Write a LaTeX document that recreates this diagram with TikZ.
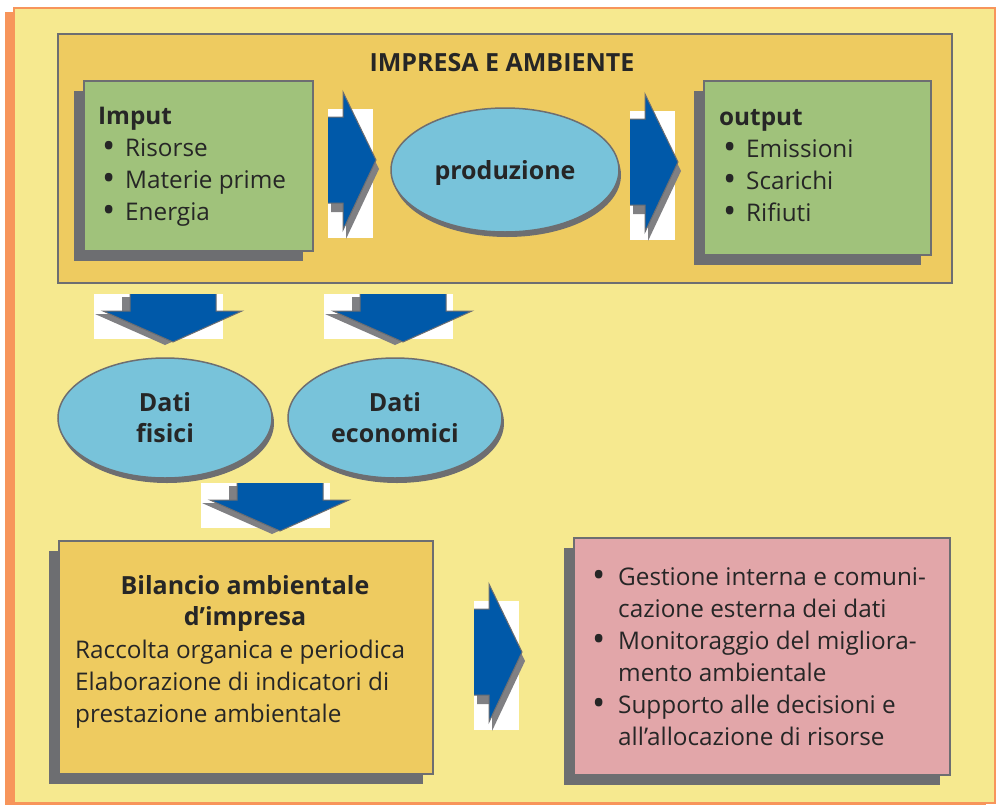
\documentclass[tikz,border=0pt]{standalone}
\usepackage{graphicx}
\usepackage{fontspec}
\setmainfont{Open Sans}
\usetikzlibrary{positioning,shapes.geometric,shadows}

\definecolor{framebg}{HTML}{F6E98F}
\definecolor{frameline}{HTML}{F7955B}
\definecolor{impresabg}{HTML}{EECB60}
\definecolor{boxline}{HTML}{6D6E71}
\definecolor{greenbg}{HTML}{A0C27B}
\definecolor{ellbg}{HTML}{78C3DA}
\definecolor{pinkbg}{HTML}{E2A6A9}
\definecolor{arrowblue}{HTML}{0059A9}
\definecolor{arrowshadow}{HTML}{808083}

% block arrows: right (x of shaft start, y of centre), down (x of centre, y of shaft top)
\newcommand{\RightBlock}[2]{%
  \fill[white] (#1,#2-51) rectangle (#1+45,#2+78);
  \fill[arrowshadow] (#1+3,#2-34) -- (#1+18,#2-34) -- (#1+18,#2-59) -- (#1+51,#2+9)
    -- (#1+18,#2+79) -- (#1+18,#2+52) -- (#1+3,#2+52) -- cycle;
  \filldraw[fill=arrowblue, draw=boxline, line width=1pt] (#1,#2-43) -- (#1+15,#2-43)
    -- (#1+15,#2-68) -- (#1+48,#2) -- (#1+15,#2+70) -- (#1+15,#2+43) -- (#1,#2+43);
}
\newcommand{\DownBlock}[2]{%
  \fill[white] (#1-79,#2) rectangle (#1+50,#2+45);
  \fill[arrowshadow] (#1-51,#2+3) -- (#1+35,#2+3) -- (#1+35,#2+20) -- (#1+61,#2+20)
    -- (#1-8,#2+51) -- (#1-78,#2+20) -- (#1-51,#2+20) -- cycle;
  \filldraw[fill=arrowblue, draw=boxline, line width=1pt] (#1-43,#2) -- (#1-43,#2+17)
    -- (#1-70,#2+17) -- (#1,#2+48) -- (#1+69,#2+17) -- (#1+43,#2+17) -- (#1+43,#2);
}
\newcommand{\dotb}{\raisebox{-2.5pt}{\scalebox{1.45}{\textbullet}}}
\newcommand{\bul}{\hspace*{4pt}\makebox[23pt][l]{\dotb}}
\newcommand{\pbul}{\makebox[26pt][l]{\dotb}}

\begin{document}
\begin{tikzpicture}[x=1pt,y=-1pt,
    box/.style={rectangle, draw=boxline, line width=2.4pt, inner sep=0pt, anchor=north west},
    boxshadow/.style={drop shadow={shadow xshift=-10pt, shadow yshift=-10pt, fill=boxline, opacity=1}},
    ell/.style={ellipse, draw=boxline, line width=1.5pt, fill=ellbg, inner sep=0pt,
      drop shadow={shadow xshift=2pt, shadow yshift=-5pt, fill=boxline, opacity=1}},
    txt/.style={inner sep=0pt, font=\fontsize{24.3}{32}\selectfont, text=black!85},
    btxt/.style={txt, font=\fontsize{25}{31}\selectfont\bfseries}]
\useasboundingbox (0,0) rectangle (999,804);

% outer frame
\node[rectangle, draw=frameline, line width=2pt, fill=framebg, anchor=north west,
  minimum width=981pt, minimum height=795pt,
  drop shadow={shadow xshift=-9pt, shadow yshift=-4pt, fill=frameline, opacity=1}] (frame) at (13,7) {};

% impresa e ambiente
\node[box, fill=impresabg, minimum width=894pt, minimum height=249pt] (impresa) at (57,33) {};
\node[btxt] (title) at (502,63) {IMPRESA E AMBIENTE};

\node[box, boxshadow, fill=greenbg, minimum width=229pt, minimum height=170pt] (imput) at (83,80) {};
\node[txt, align=left, anchor=base west] (imputtxt) at (98,220)
  {\textbf{Imput}\\ \bul Risorse\\ \bul Materie prime\\ \bul Energia};

\node[ell, minimum width=228pt, minimum height=124pt] (prod) at (505,170) {};
\node[btxt] (prodtxt) at ([yshift=-3pt]prod.center) {produzione};

\node[box, boxshadow, fill=greenbg, minimum width=227pt, minimum height=174pt] (output) at (703,80) {};
\node[txt, align=left, anchor=base west] (outputtxt) at (719,221)
  {\textbf{output}\\ \bul Emissioni\\ \bul Scarichi\\ \bul Rifiuti};

\RightBlock{328}{160}
\RightBlock{630}{162}

% dati
\DownBlock{173}{294}
\DownBlock{403}{294}

\node[ell, minimum width=214pt, minimum height=120pt] (fisici) at (165,418) {};
\node[btxt, align=center] (fisicitxt) at (fisici.center) {Dati\\fisici};
\node[ell, minimum width=214pt, minimum height=120pt] (economici) at (395,418) {};
\node[btxt, align=center] (economicitxt) at (economici.center) {Dati\\economici};

\DownBlock{280}{483}

% bilancio ambientale
\node[box, boxshadow, fill=impresabg, minimum width=374pt, minimum height=233pt] (bilancio) at (58,540) {};
\node[btxt, align=center, anchor=base] (bilanciotit) at (245,625)
  {Bilancio ambientale\\d’impresa};
\node[txt, align=left, anchor=base west] (bilanciotxt) at (75,722)
  {Raccolta organica e periodica\\Elaborazione di indicatori di\\prestazione ambientale};

\RightBlock{474}{652}

\node[box, boxshadow, fill=pinkbg, minimum width=376pt, minimum height=237pt] (uso) at (573,537) {};
\node[txt, align=left, anchor=base west] (usotxt) at (592,745)
  {\pbul Gestione interna e comuni-\\ \hspace*{26pt}cazione esterna dei dati\\
   \pbul Monitoraggio del migliora-\\ \hspace*{26pt}mento ambientale\\
   \pbul Supporto alle decisioni e\\ \hspace*{26pt}all’allocazione di risorse};
\end{tikzpicture}
\end{document}
